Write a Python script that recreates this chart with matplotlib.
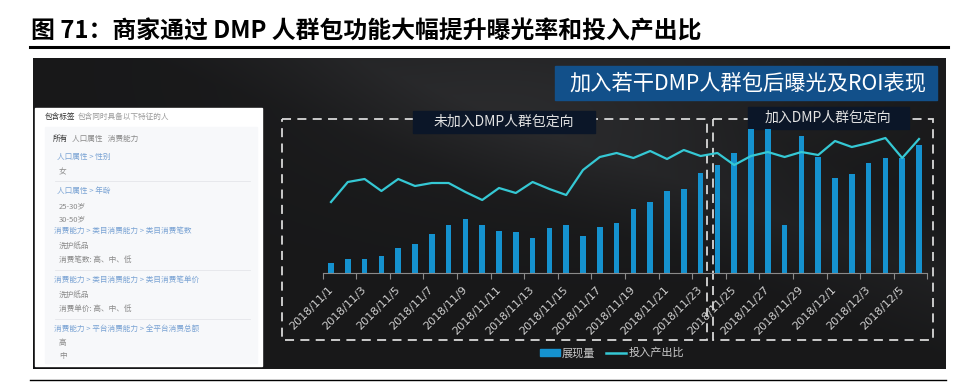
import matplotlib.pyplot as plt
import numpy as np
from matplotlib.patches import Rectangle
from matplotlib.lines import Line2D

plt.rcParams['font.family'] = ['Noto Sans CJK SC', 'DejaVu Sans']

# daily data, 2018/11/1 - 2018/12/6
dates = ['2018/11/1', '2018/11/2', '2018/11/3', '2018/11/4', '2018/11/5', '2018/11/6',
         '2018/11/7', '2018/11/8', '2018/11/9', '2018/11/10', '2018/11/11', '2018/11/12',
         '2018/11/13', '2018/11/14', '2018/11/15', '2018/11/16', '2018/11/17', '2018/11/18',
         '2018/11/19', '2018/11/20', '2018/11/21', '2018/11/22', '2018/11/23', '2018/11/24',
         '2018/11/25', '2018/11/26', '2018/11/27', '2018/11/28', '2018/11/29', '2018/11/30',
         '2018/12/1', '2018/12/2', '2018/12/3', '2018/12/4', '2018/12/5', '2018/12/6']
exposure = [10, 14, 14, 17, 25, 29, 39, 48, 54, 48, 42, 41, 35, 45, 48, 37, 46, 50,
            64, 71, 82, 84, 100, 108, 120, 144, 144, 48, 137, 116, 95, 99, 110, 115, 115, 128]
roi = [7.1, 9.1, 9.4, 8.2, 9.4, 8.7, 9.0, 9.0, 8.1, 7.3, 8.5, 8.0, 9.1, 8.4, 7.8, 10.3, 11.6, 12.0,
       11.5, 12.2, 11.4, 12.3, 11.7, 12.0, 10.8, 11.7, 12.1, 11.6, 12.1, 11.8, 13.2, 12.6, 13.0, 13.5, 11.5, 13.4]

title = '图 71：商家通过 DMP 人群包功能大幅提升曝光率和投入产出比'
banner = '加入若干DMP人群包后曝光及ROI表现'
group_labels = ['未加入DMP人群包定向', '加入DMP人群包定向']
series_names = ['展现量', '投入产出比']

# left screenshot panel: (text, kind, y)
panel_rows = [
    ('人口属性 > 性别', 'blue', 157), ('女', 'val', 172),
    ('人口属性 > 年龄', 'blue', 191), ('25-30岁', 'val', 206), ('30-50岁', 'val', 219),
    ('消费能力 > 类目消费能力 > 类目消费笔数', 'blue', 231), ('洗护纸品', 'val', 246),
    ('消费笔数: 高、中、低', 'val', 260),
    ('消费能力 > 类目消费能力 > 类目消费笔单价', 'blue', 280), ('洗护纸品', 'val', 295),
    ('消费单价: 高、中、低', 'val', 309),
    ('消费能力 > 平台消费能力 > 全平台消费总额', 'blue', 329), ('高', 'val', 343), ('中', 'val', 356),
]
separators = [181, 270, 319]

W, H = 963, 383
BAR_C = '#1592cf'
LINE_C = '#35c8d4'

fig = plt.figure(figsize=(W / 100, H / 100), dpi=100)
bg = fig.add_axes([0, 0, 1, 1])
bg.set_xlim(0, W)
bg.set_ylim(H, 0)
bg.axis('off')

# title and rules
bg.text(31, 31, title, fontsize=17.2, fontweight='bold', va='center', ha='left', color='black')
bg.plot([30, 948], [47, 47], color='black', lw=2.2)
bg.plot([30, 946], [380, 380], color='black', lw=1.0)

# dark picture background with a soft gradient
px0, px1, py0, py1 = 33, 946, 58, 369
yy, xx = np.mgrid[0:1:200j, 0:1:600j]
v = 0.095 + 0.055 * np.exp(-((xx - 0.62) ** 2 / 0.08 + (yy - 0.05) ** 2 / 0.12))
v += 0.03 * np.clip(1 - np.abs(yy - (xx - 0.35) * 1.1) * 4, 0, 1)
v -= 0.04 * np.clip((yy - 0.85) * 6 - xx * 8, 0, 1)
img = np.dstack([v, v * 1.01, v * 1.06])
bg.imshow(np.clip(img, 0, 1), extent=[px0, px1, py1, py0], aspect='auto', zorder=0)

# banner
bg.add_patch(Rectangle((555, 66), 382, 34, color='#12508a', zorder=2))
bg.text(748, 83, banner, fontsize=15.3, color='white', ha='center', va='center', zorder=3)

# left white panel
bg.add_patch(Rectangle((35, 108), 227, 258, color='white', zorder=2))
bg.add_patch(Rectangle((45, 127), 212, 236, color='#f7f8fa', zorder=2))
bg.text(45, 117, '包含标签', fontsize=5.5, color='#333333', va='center', zorder=3)
bg.text(78, 117, '包含同时具备以下特征的人', fontsize=5.5, color='#9a9a9a', va='center', zorder=3)
bg.text(53, 139, '所有', fontsize=5.5, color='#333333', va='center', zorder=3)
bg.text(72, 139, '人口属性   消费能力', fontsize=5.5, color='#8a8a8a', va='center', zorder=3)
for txt, kind, y in panel_rows:
    if kind == 'blue':
        x0 = 57 if txt.startswith('人口') else 54
        bg.text(x0, y, txt, fontsize=5.5, color='#7aa3d4', va='center', zorder=3)
    else:
        bg.text(59, y, txt, fontsize=5.5, color='#8a8a8a', va='center', zorder=3)
for y in separators:
    bg.plot([55, 250], [y, y], color='#e4e6ea', lw=0.6, zorder=3)

# dashed group boxes
for (x0, x1) in [(282, 707), (713, 933)]:
    bg.add_patch(Rectangle((x0, 119), x1 - x0, 221, fill=False, ec='#d8d8d8', lw=1.3,
                           ls=(0, (5, 3.5)), zorder=3))
bg.add_patch(Rectangle((413, 111), 182, 22, color='#0b1628', zorder=4))
bg.text(504, 122, group_labels[0], fontsize=10, color='#e2e2e2', ha='center', va='center', zorder=5)
bg.add_patch(Rectangle((748, 107), 161, 22, color='#0b1628', zorder=4))
bg.text(828, 118, group_labels[1], fontsize=10, color='#e2e2e2', ha='center', va='center', zorder=5)

# chart axes placed in pixel space: baseline at y=273
ax_left, ax_right, ax_top, ax_base = 322.6, 927.4, 100, 273
ax = fig.add_axes([ax_left / W, 1 - ax_base / H, (ax_right - ax_left) / W, (ax_base - ax_top) / H])
ax.patch.set_alpha(0)
x = np.arange(len(dates))
ax.bar(x, exposure, width=0.34, color=BAR_C, zorder=2)
ax.set_xlim(-0.5, len(dates) - 0.5)
ax.set_ylim(0, 173)
for s in ['top', 'right', 'left']:
    ax.spines[s].set_visible(False)
ax.spines['bottom'].set_color('#8a8a8a')
ax.set_yticks([])
ax.set_xticks(x[::2])
ax.set_xticklabels(dates[::2], rotation=45, ha='right', va='center', rotation_mode='anchor',
                   fontsize=8, color='#cfcfcf', family='DejaVu Sans')
ax.tick_params(axis='x', which='major', length=0, pad=11)
ax.set_xticks(np.arange(-0.5, len(dates), 2), minor=True)
ax.tick_params(axis='x', which='minor', length=4, color='#8a8a8a', width=0.8)

ax2 = ax.twinx()
ax2.plot(x, roi, color=LINE_C, lw=1.6, zorder=3)
ax2.set_ylim(0, 17.3)
ax2.axis('off')

handles = [Rectangle((0, 0), 1, 1, color=BAR_C), Line2D([0], [0], color=LINE_C, lw=1.8)]
fig.legend(handles, series_names, loc='center', bbox_to_anchor=(612 / W, 1 - 353 / H), ncol=2,
           frameon=False, fontsize=8, labelcolor='#c8c8c8', handlelength=1.8, handleheight=0.55,
           handletextpad=0.2, columnspacing=1.0)

fig.savefig('out.png', dpi=100)
